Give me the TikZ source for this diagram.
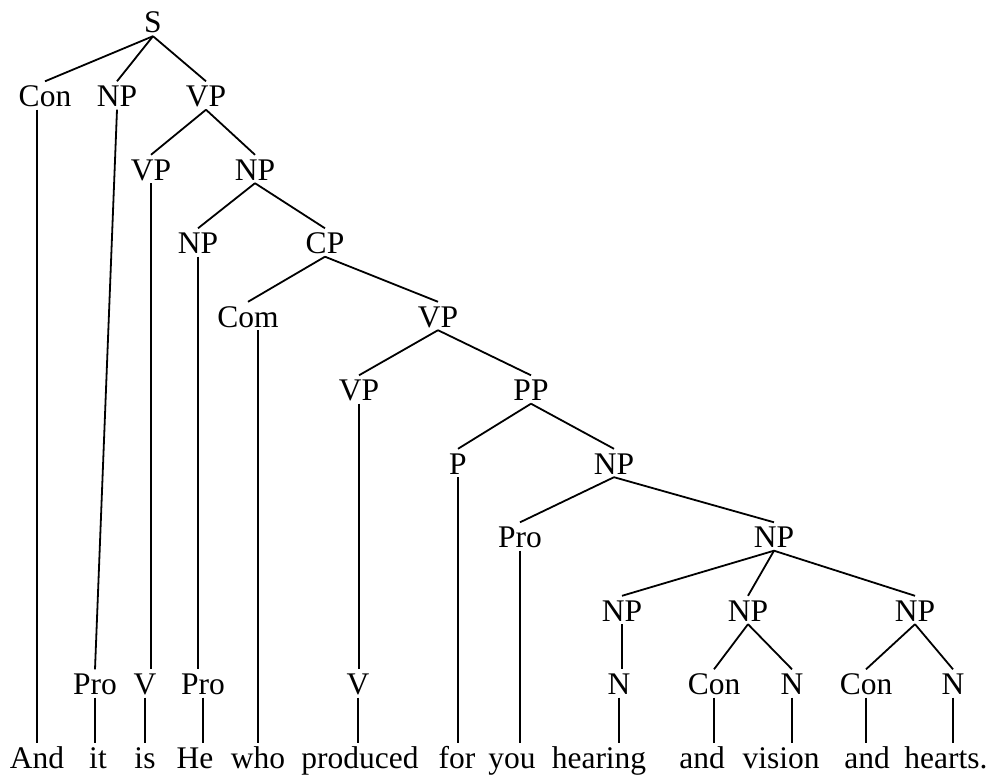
\documentclass[tikz,border=0pt]{standalone}
\usepackage{fontspec}
\setmainfont{Liberation Serif}
\usepackage{tikz}
\usetikzlibrary{positioning}

\begin{document}
\begin{tikzpicture}[node distance=73.5pt, x=1pt, y=1pt]

    % Define style for different elements
    \tikzstyle{cat} = [inner xsep=2pt, inner ysep=3pt, text height=22pt, text depth=0pt, font=\fontsize{31.5}{36}\selectfont]
    \tikzstyle{word} = [cat]
    \tikzstyle{branch} = [line width=1.8pt]

    \useasboundingbox (0,0) rectangle (1006,-776);

    % Place nodes
    \node (s) [cat] at (153,-22) {S};
    \node (con1) [cat, below of=s, xshift=-108pt] {Con};
    \node (np1) [cat, below of=s, xshift=-36pt] {NP};
    \node (vp1) [cat, below of=s, xshift=53pt] {VP};
    \node (vp2) [cat, below of=vp1, xshift=-55pt] {VP};
    \node (np2) [cat, below of=vp1, xshift=49pt] {NP};
    \node (np3) [cat, below of=np2, xshift=-57pt] {NP};
    \node (cp) [cat, below of=np2, xshift=70pt] {CP};
    \node (com) [cat, below of=cp, xshift=-77pt] {Com};
    \node (vp4) [cat, below of=cp, xshift=113pt] {VP};
    \node (vp5) [cat, below of=vp4, xshift=-79pt] {VP};
    \node (pp) [cat, below of=vp4, xshift=93pt] {PP};
    \node (p) [cat, below of=pp, xshift=-73pt] {P};
    \node (np6) [cat, below of=pp, xshift=83pt] {NP};
    \node (pro7) [cat, below of=np6, xshift=-94pt] {Pro};
    \node (np7) [cat, below of=np6, xshift=160pt] {NP};
    \node (np8a) [cat, below of=np7, xshift=-152pt] {NP};
    \node (np8b) [cat, below of=np7, xshift=-26pt] {NP};
    \node (np8c) [cat, below of=np7, xshift=141pt] {NP};

    % Preterminals
    \node (pro9a) [cat, below of=np1, yshift=-514.5pt, xshift=-22pt] {Pro};
    \node (v9a) [cat, below of=vp2, yshift=-441pt, xshift=-6pt] {V};
    \node (pro9b) [cat, below of=np3, yshift=-367.5pt, xshift=5pt] {Pro};
    \node (v9b) [cat, below of=vp5, yshift=-220.5pt, xshift=-1pt] {V};
    \node (n9a) [cat, below of=np8a, xshift=-3pt] {N};
    \node (con9a) [cat, below of=np8b, xshift=-34pt] {Con};
    \node (n9b) [cat, below of=np8b, xshift=44pt] {N};
    \node (con9b) [cat, below of=np8c, xshift=-49pt] {Con};
    \node (n9c) [cat, below of=np8c, xshift=38pt] {N};

    % Words
    \node (w1) [word, below of=con1, yshift=-588pt, xshift=-8pt] {And};
    \node (w2) [word, below of=pro9a, xshift=3pt] {it};
    \node (w3) [word, below of=v9a] {is};
    \node (w4) [word, below of=pro9b, xshift=-8pt] {He};
    \node (w5) [word, below of=com, yshift=-367.5pt, xshift=10pt] {who};
    \node (w6) [word, below of=v9b, xshift=2pt] {produced};
    \node (w7) [word, below of=p, yshift=-220.5pt, xshift=-1pt] {for};
    \node (w8) [word, below of=pro7, yshift=-147pt, xshift=-8pt] {you};
    \node (w9) [word, below of=n9a, xshift=-20pt] {hearing};
    \node (w10) [word, below of=con9a, xshift=-12pt] {and};
    \node (w11) [word, below of=n9b, xshift=-11pt] {vision};
    \node (w12) [word, below of=con9b, xshift=1pt] {and};
    \node (w13) [word, below of=n9c, xshift=-7pt] {hearts.};

    % Draw branches
    \draw [branch] (s.south) -- (con1.north);
    \draw [branch] (s.south) -- (np1.north);
    \draw [branch] (s.south) -- (vp1.north);
    \draw [branch] (vp1.south) -- (vp2.north);
    \draw [branch] (vp1.south) -- (np2.north);
    \draw [branch] (np2.south) -- (np3.north);
    \draw [branch] (np2.south) -- (cp.north);
    \draw [branch] (cp.south) -- (com.north);
    \draw [branch] (cp.south) -- (vp4.north);
    \draw [branch] (vp4.south) -- (vp5.north);
    \draw [branch] (vp4.south) -- (pp.north);
    \draw [branch] (pp.south) -- (p.north);
    \draw [branch] (pp.south) -- (np6.north);
    \draw [branch] (np6.south) -- (pro7.north);
    \draw [branch] (np6.south) -- (np7.north);
    \draw [branch] (np7.south) -- (np8a.north);
    \draw [branch] (np7.south) -- (np8b.north);
    \draw [branch] (np7.south) -- (np8c.north);
    \draw [branch] (np1.south) -- (pro9a.north);
    \draw [branch] (vp2.south) -- (vp2.south |- v9a.north);
    \draw [branch] (np3.south) -- (np3.south |- pro9b.north);
    \draw [branch] (vp5.south) -- (vp5.south |- v9b.north);
    \draw [branch] (np8a.south) -- (np8a.south |- n9a.north);
    \draw [branch] (np8b.south) -- (con9a.north);
    \draw [branch] (np8b.south) -- (n9b.north);
    \draw [branch] (np8c.south) -- (con9b.north);
    \draw [branch] (np8c.south) -- (n9c.north);

    % Leaves
    \draw [branch] (w1.north |- con1.south) -- (w1.north);
    \draw [branch] (pro9a.south) -- (pro9a.south |- w2.north);
    \draw [branch] (v9a.south) -- (v9a.south |- w3.north);
    \draw [branch] (pro9b.south) -- (pro9b.south |- w4.north);
    \draw [branch] (w5.north |- com.south) -- (w5.north);
    \draw [branch] (v9b.south) -- (v9b.south |- w6.north);
    \draw [branch] (p.south) -- (p.south |- w7.north);
    \draw [branch] (pro7.south) -- (pro7.south |- w8.north);
    \draw [branch] (n9a.south) -- (n9a.south |- w9.north);
    \draw [branch] (con9a.south) -- (con9a.south |- w10.north);
    \draw [branch] (n9b.south) -- (n9b.south |- w11.north);
    \draw [branch] (con9b.south) -- (con9b.south |- w12.north);
    \draw [branch] (n9c.south) -- (n9c.south |- w13.north);

\end{tikzpicture}
\end{document}
